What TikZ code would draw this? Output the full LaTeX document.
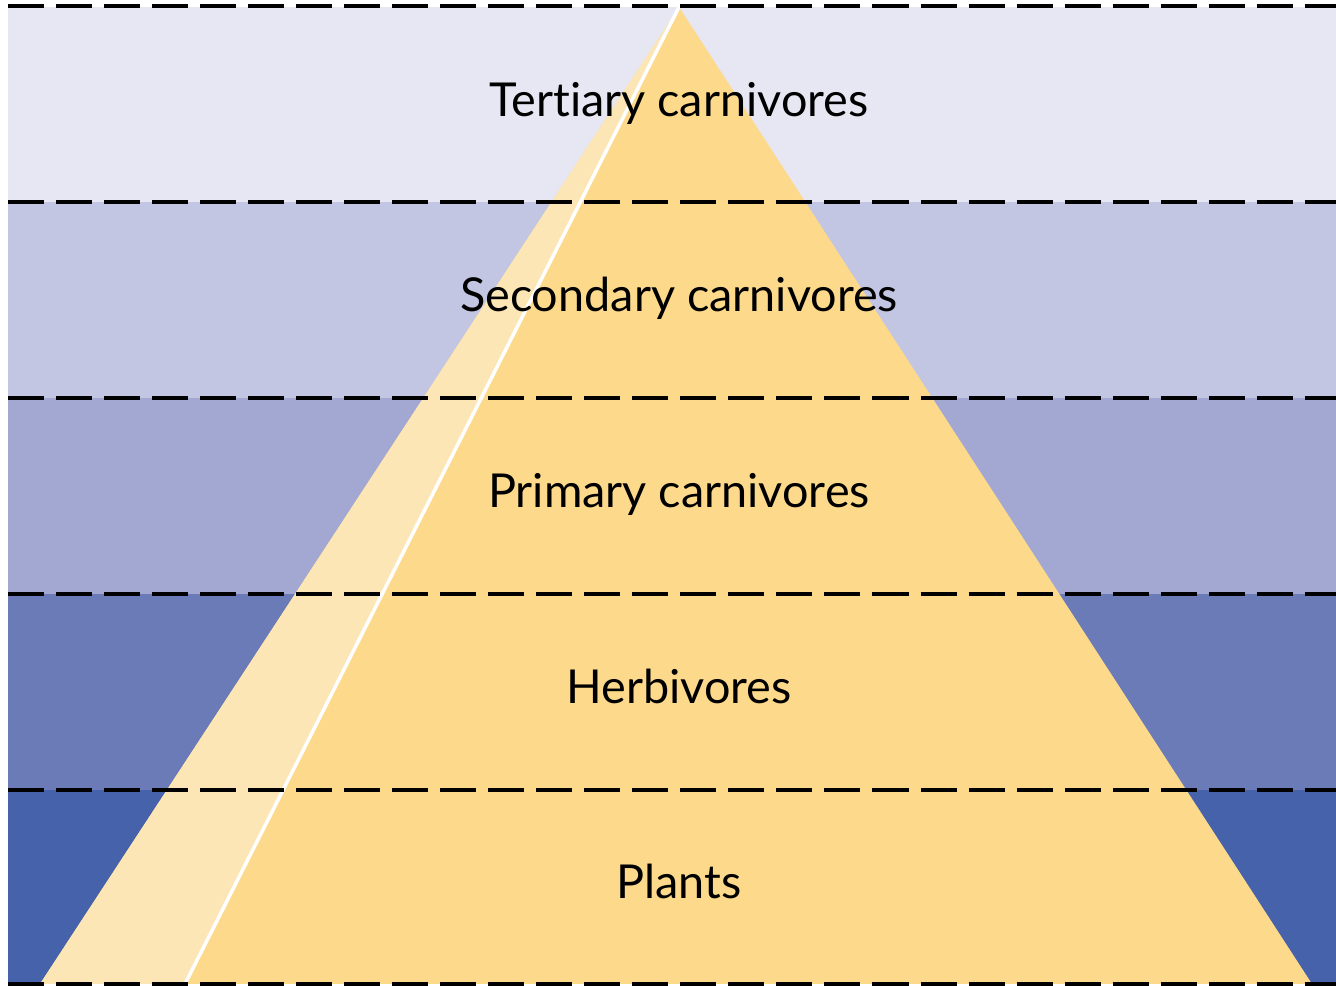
\documentclass[tikz,border=0pt]{standalone}
\usepackage{fontspec}
\setmainfont{Lato}[Ligatures=NoCommon]
\usepackage{tikz}
\definecolor{pmfaixaa}{HTML}{E6E7F3}
\definecolor{pmfaixab}{HTML}{C3C6E2}
\definecolor{pmfaixac}{HTML}{A3A8D3}
\definecolor{pmfaixad}{HTML}{6A7BB8}
\definecolor{pmfaixae}{HTML}{4562AA}
\definecolor{pmpiramide}{HTML}{FDD98B}
\definecolor{pmclaro}{HTML}{FDE6B5}
\tikzset{
  pmlinha/.style={draw=black, line width=0.95pt, dash pattern=on 0.36cm off 0.12cm},
  pmrotulo/.style={font=\fontsize{13.3}{16}\selectfont, anchor=base, inner sep=0pt},
}
\begin{document}
\begin{tikzpicture}[x=0.01cm, y=-0.01cm]
    \useasboundingbox (0,0) rectangle (1336,986);
    % faixas de fundo
    \fill[pmfaixaa] (8,7) rectangle (1336,202);
    \fill[pmfaixab] (8,202) rectangle (1336,398);
    \fill[pmfaixac] (8,398) rectangle (1336,594);
    \fill[pmfaixad] (8,594) rectangle (1336,790);
    \fill[pmfaixae] (8,790) rectangle (1336,984);
    % piramide
    \fill[pmpiramide] (679,7) -- (1312,984) -- (40,984) -- cycle;
    \fill[pmclaro] (679,7) -- (185,984) -- (40,984) -- cycle;
    \draw[white, line width=1pt] (679,7) -- (185,984);
    % linhas tracejadas
    \foreach \y in {6,202,398,594,790,984}
        \draw[pmlinha] (8,\y) -- (1336,\y);
    % rotulos
    \node[pmrotulo] (tercia) at (679,117) {Tertiary carnivores};
    \node[pmrotulo] (secun) at (679,312) {Secondary carnivores};
    \node[pmrotulo] (prima) at (679,508) {Primary carnivores};
    \node[pmrotulo] (herbi) at (679,704) {Herbivores};
    \node[pmrotulo] (plant) at (679,899) {Plants};
\end{tikzpicture}
\end{document}
